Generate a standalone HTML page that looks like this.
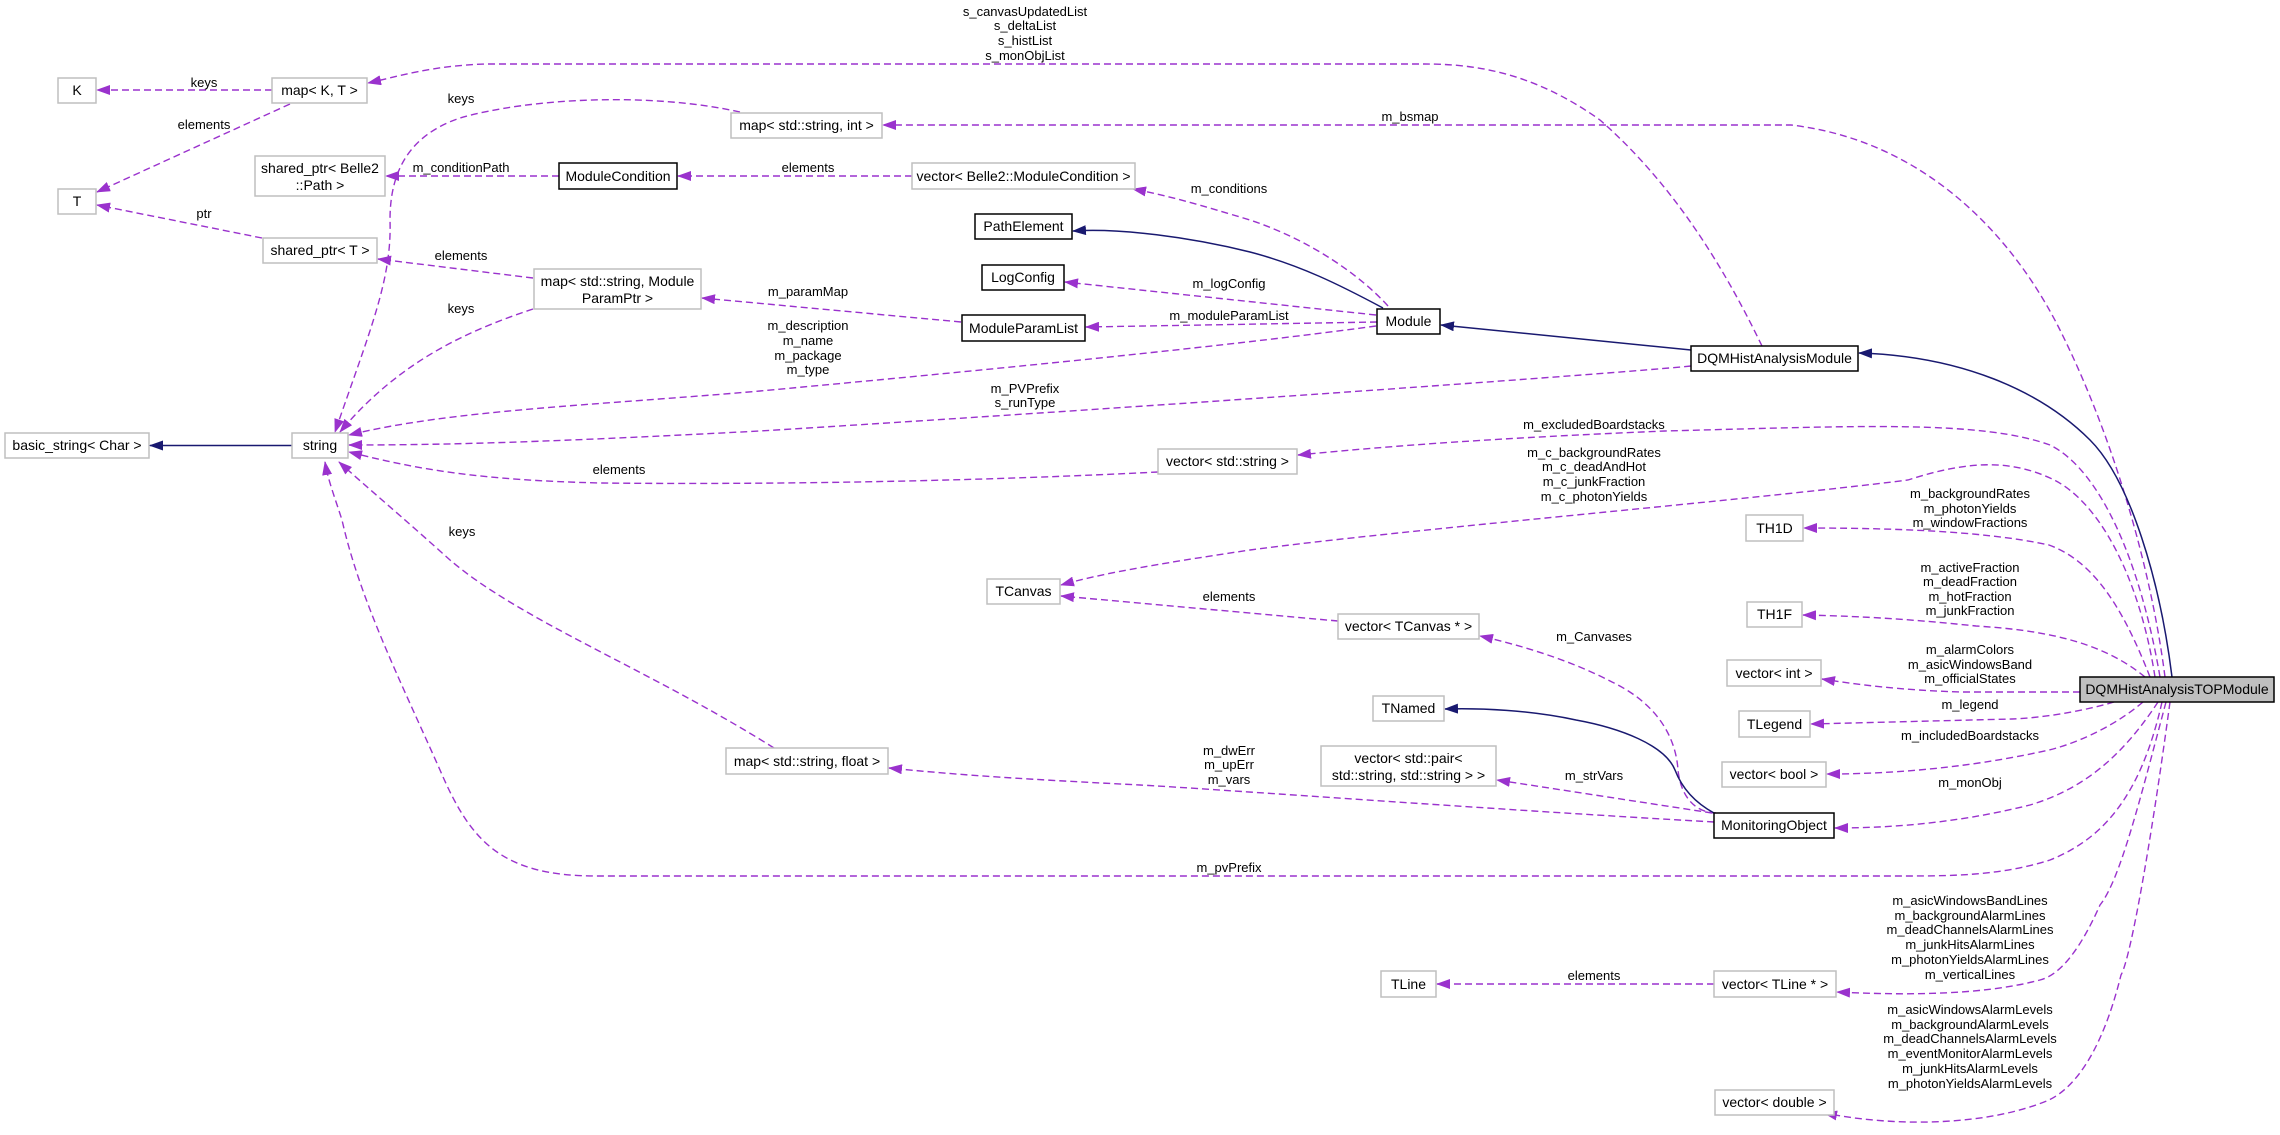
<!DOCTYPE html>
<html><head><meta charset="utf-8"><style>
html,body{margin:0;padding:0;background:#fff;}
svg{display:block;}
text{font-family:"Liberation Sans",Arial,sans-serif;fill:#000;}
.n{font-size:14px;text-anchor:middle;}
.l{font-size:13px;text-anchor:middle;}
.d{fill:none;stroke:#9a32cd;stroke-width:1.4;stroke-dasharray:7,4;}
.s{fill:none;stroke:#191970;stroke-width:1.5;}
.g{fill:#fff;stroke:#bfbfbf;stroke-width:1.5;}
.b{fill:#fff;stroke:#000;stroke-width:1.5;}
</style></head><body>
<svg width="2280" height="1135" viewBox="0 0 2280 1135" xmlns="http://www.w3.org/2000/svg">
<defs>
<marker id="ap" markerWidth="14" markerHeight="10" refX="13" refY="5" orient="auto" markerUnits="userSpaceOnUse"><path d="M0,0 L14,5 L0,10 Z" fill="#9a32cd"/></marker>
<marker id="an" markerWidth="14" markerHeight="10" refX="13" refY="5" orient="auto" markerUnits="userSpaceOnUse"><path d="M0,0 L14,5 L0,10 Z" fill="#191970"/></marker>
</defs>

<!-- edges -->
<path class="d" marker-end="url(#ap)" d="M272,90 L97,90"/>
<path class="d" marker-end="url(#ap)" d="M290,104 L97,192"/>
<path class="d" marker-end="url(#ap)" d="M262,238 L97,205"/>
<path class="d" marker-end="url(#ap)" d="M740,112 C650,92 530,98 460,118 C410,135 390,170 390,220 C392,280 370,330 335,432"/>
<path class="d" marker-end="url(#ap)" d="M559,176 L386,176"/>
<path class="d" marker-end="url(#ap)" d="M912,176 L678,176"/>
<path class="d" marker-end="url(#ap)" d="M533,278 L378,259"/>
<path class="d" marker-end="url(#ap)" d="M533,309 C470,330 400,360 340,432"/>
<path class="d" marker-end="url(#ap)" d="M1388,306 C1360,275 1310,240 1250,220 C1200,205 1170,196 1133,189"/>
<path class="s" marker-end="url(#an)" d="M1383,308 C1340,285 1300,265 1250,252 C1190,237 1120,228 1073,231"/>
<path class="d" marker-end="url(#ap)" d="M1376,315 L1065,282"/>
<path class="d" marker-end="url(#ap)" d="M1377,322 L1086,327"/>
<path class="d" marker-end="url(#ap)" d="M961,322 L702,298"/>
<path class="d" marker-end="url(#ap)" d="M1376,326 C1200,350 900,378 760,391 C600,405 450,410 349,435"/>
<path class="d" marker-end="url(#ap)" d="M1691,366 C1600,375 1100,410 760,431 C550,442 450,445 349,445"/>
<path class="s" marker-end="url(#an)" d="M1691,350 L1441,325"/>
<path class="d" marker-end="url(#ap)" d="M1762,346 C1730,280 1680,190 1600,120 C1530,70 1470,64 1424,64 L485,64 C430,66 400,76 368,83"/>
<path class="d" marker-end="url(#ap)" d="M2165,677 C2150,560 2110,430 2060,330 C2010,230 1920,140 1791,125 L883,125"/>
<path class="s" marker-end="url(#an)" d="M2172,677 C2160,580 2130,480 2090,440 C2040,390 1960,356 1859,353"/>
<path class="d" marker-end="url(#ap)" d="M2160,677 C2140,560 2100,470 2050,445 C1980,420 1860,426 1665,431 C1500,438 1400,445 1298,455"/>
<path class="d" marker-end="url(#ap)" d="M1158,472 C1000,480 800,485 600,483 C480,480 420,470 349,452"/>
<path class="d" marker-end="url(#ap)" d="M2155,677 C2140,580 2100,500 2050,478 C2010,460 1970,460 1908,480 C1750,500 1400,530 1250,550 C1150,565 1100,574 1061,585"/>
<path class="d" marker-end="url(#ap)" d="M1338,621 L1061,596"/>
<path class="d" marker-end="url(#ap)" d="M2150,677 C2120,600 2090,560 2049,545 C1980,530 1880,528 1804,528"/>
<path class="d" marker-end="url(#ap)" d="M2145,677 C2100,640 2040,630 1976,626 C1900,618 1850,616 1803,615"/>
<path class="d" marker-end="url(#ap)" d="M2080,692 L1960,692 C1900,690 1860,685 1822,679"/>
<path class="d" marker-end="url(#ap)" d="M2114,702 C2080,712 2040,718 2012,719 L1811,724"/>
<path class="d" marker-end="url(#ap)" d="M2143,702 C2110,730 2070,745 2049,750 C1960,770 1880,774 1827,774"/>
<path class="d" marker-end="url(#ap)" d="M2158,702 C2120,760 2080,790 2030,805 C1950,825 1880,828 1835,828"/>
<path class="d" marker-end="url(#ap)" d="M2162,702 C2140,800 2100,840 2050,860 C2000,876 1950,876 1900,876 L596,876 C500,876 470,840 440,770 C400,680 360,600 342,520 C334,495 328,480 325,462"/>
<path class="d" marker-end="url(#ap)" d="M1716,813 C1690,812 1680,790 1678,770 C1676,740 1660,705 1612,682 C1570,660 1520,645 1480,636"/>
<path class="s" marker-end="url(#an)" d="M1714,813 C1690,800 1680,783 1675,770 C1665,745 1620,728 1576,720 C1530,710 1480,708 1445,709"/>
<path class="d" marker-end="url(#ap)" d="M1712,813 L1497,780"/>
<path class="d" marker-end="url(#ap)" d="M1714,822 C1500,810 1200,788 1140,785 C1000,778 950,774 889,768"/>
<path class="d" marker-end="url(#ap)" d="M774,748 C650,670 520,620 450,560 C400,515 370,490 339,462"/>
<path class="d" marker-end="url(#ap)" d="M1714,984 L1437,984"/>
<path class="d" marker-end="url(#ap)" d="M2166,702 C2140,800 2120,880 2100,905 C2080,950 2060,975 2040,980 C1980,996 1900,995 1837,992"/>
<path class="d" marker-end="url(#ap)" d="M2170,702 C2150,850 2130,960 2121,975 C2100,1060 2070,1090 2049,1100 C1990,1125 1900,1128 1824,1113"/>

<!-- nodes -->
<rect class="g" x="58" y="78" width="38" height="25"/><text class="n" x="77" y="95">K</text>
<rect class="g" x="272" y="78" width="95" height="25"/><text class="n" x="319.5" y="95">map&lt; K, T &gt;</text>
<rect class="g" x="58" y="189" width="38" height="25"/><text class="n" x="77" y="206">T</text>
<rect class="g" x="255" y="156" width="130" height="40"/><text class="n" x="320" y="173">shared_ptr&lt; Belle2</text><text class="n" x="320" y="190">::Path &gt;</text>
<rect class="g" x="263" y="238" width="114" height="25"/><text class="n" x="320" y="255">shared_ptr&lt; T &gt;</text>
<rect class="g" x="731" y="113" width="151" height="25"/><text class="n" x="806.5" y="130">map&lt; std::string, int &gt;</text>
<rect class="b" x="559" y="163" width="118" height="26"/><text class="n" x="618" y="181">ModuleCondition</text>
<rect class="g" x="912" y="163" width="223" height="26"/><text class="n" x="1023.5" y="181">vector&lt; Belle2::ModuleCondition &gt;</text>
<rect class="b" x="975" y="214" width="97" height="25"/><text class="n" x="1023.5" y="231">PathElement</text>
<rect class="b" x="982" y="265" width="82" height="25"/><text class="n" x="1023" y="282">LogConfig</text>
<rect class="g" x="534" y="269" width="167" height="40"/><text class="n" x="617.5" y="286">map&lt; std::string, Module</text><text class="n" x="617.5" y="303">ParamPtr &gt;</text>
<rect class="b" x="962" y="315" width="123" height="26"/><text class="n" x="1023.5" y="333">ModuleParamList</text>
<rect class="b" x="1377" y="309" width="63" height="25"/><text class="n" x="1408.5" y="326">Module</text>
<rect class="b" x="1691" y="346" width="167" height="25"/><text class="n" x="1774.5" y="363">DQMHistAnalysisModule</text>
<rect class="g" x="5" y="433" width="144" height="25"/><text class="n" x="77" y="450">basic_string&lt; Char &gt;</text>
<path class="s" marker-end="url(#an)" d="M292,445.5 L150,445.5"/>
<rect class="g" x="292" y="433" width="56" height="25"/><text class="n" x="320" y="450">string</text>
<rect class="g" x="1158" y="449" width="139" height="25"/><text class="n" x="1227.5" y="466">vector&lt; std::string &gt;</text>
<rect class="g" x="1746" y="515" width="57" height="26"/><text class="n" x="1774.5" y="533">TH1D</text>
<rect class="g" x="987" y="579" width="73" height="25"/><text class="n" x="1023.5" y="596">TCanvas</text>
<rect class="g" x="1747" y="602" width="55" height="25"/><text class="n" x="1774.5" y="619">TH1F</text>
<rect class="g" x="1338" y="614" width="141" height="25"/><text class="n" x="1408.5" y="631">vector&lt; TCanvas * &gt;</text>
<rect class="g" x="1727" y="660" width="94" height="26"/><text class="n" x="1774" y="678">vector&lt; int &gt;</text>
<rect x="2080" y="677" width="194" height="25" fill="#bfbfbf" stroke="#000" stroke-width="1.5"/><text class="n" x="2177" y="694">DQMHistAnalysisTOPModule</text>
<rect class="g" x="1373" y="696" width="71" height="25"/><text class="n" x="1408.5" y="713">TNamed</text>
<rect class="g" x="1739" y="711" width="71" height="26"/><text class="n" x="1774.5" y="729">TLegend</text>
<rect class="g" x="1321" y="746" width="175" height="40"/><text class="n" x="1408.5" y="763">vector&lt; std::pair&lt;</text><text class="n" x="1408.5" y="780"> std::string, std::string &gt; &gt;</text>
<rect class="g" x="726" y="748" width="162" height="26"/><text class="n" x="807" y="766">map&lt; std::string, float &gt;</text>
<rect class="g" x="1722" y="762" width="104" height="25"/><text class="n" x="1774" y="779">vector&lt; bool &gt;</text>
<rect class="b" x="1714" y="813" width="120" height="25"/><text class="n" x="1774" y="830">MonitoringObject</text>
<rect class="g" x="1381" y="971" width="55" height="26"/><text class="n" x="1408.5" y="989">TLine</text>
<rect class="g" x="1714" y="971" width="122" height="26"/><text class="n" x="1775" y="989">vector&lt; TLine * &gt;</text>
<rect class="g" x="1715" y="1090" width="119" height="25"/><text class="n" x="1774.5" y="1107">vector&lt; double &gt;</text>

<!-- labels -->
<text class="l" x="204" y="87">keys</text>
<text class="l" x="204" y="129">elements</text>
<text class="l" x="204" y="218">ptr</text>
<text class="l" x="461" y="103">keys</text>
<text class="l" x="461" y="172">m_conditionPath</text>
<text class="l" x="461" y="260">elements</text>
<text class="l" x="461" y="313">keys</text>
<text class="l" x="1025" y="16">s_canvasUpdatedList</text>
<text class="l" x="1025" y="30">s_deltaList</text>
<text class="l" x="1025" y="45">s_histList</text>
<text class="l" x="1025" y="60">s_monObjList</text>
<text class="l" x="1410" y="121">m_bsmap</text>
<text class="l" x="808" y="172">elements</text>
<text class="l" x="1229" y="193">m_conditions</text>
<text class="l" x="1229" y="288">m_logConfig</text>
<text class="l" x="1229" y="320">m_moduleParamList</text>
<text class="l" x="808" y="296">m_paramMap</text>
<text class="l" x="808" y="330">m_description</text>
<text class="l" x="808" y="345">m_name</text>
<text class="l" x="808" y="360">m_package</text>
<text class="l" x="808" y="374">m_type</text>
<text class="l" x="1025" y="393">m_PVPrefix</text>
<text class="l" x="1025" y="407">s_runType</text>
<text class="l" x="1594" y="429">m_excludedBoardstacks</text>
<text class="l" x="1594" y="457">m_c_backgroundRates</text>
<text class="l" x="1594" y="471">m_c_deadAndHot</text>
<text class="l" x="1594" y="486">m_c_junkFraction</text>
<text class="l" x="1594" y="501">m_c_photonYields</text>
<text class="l" x="619" y="474">elements</text>
<text class="l" x="1970" y="498">m_backgroundRates</text>
<text class="l" x="1970" y="513">m_photonYields</text>
<text class="l" x="1970" y="527">m_windowFractions</text>
<text class="l" x="462" y="536">keys</text>
<text class="l" x="1229" y="601">elements</text>
<text class="l" x="1970" y="572">m_activeFraction</text>
<text class="l" x="1970" y="586">m_deadFraction</text>
<text class="l" x="1970" y="601">m_hotFraction</text>
<text class="l" x="1970" y="615">m_junkFraction</text>
<text class="l" x="1594" y="641">m_Canvases</text>
<text class="l" x="1970" y="654">m_alarmColors</text>
<text class="l" x="1970" y="669">m_asicWindowsBand</text>
<text class="l" x="1970" y="683">m_officialStates</text>
<text class="l" x="1970" y="709">m_legend</text>
<text class="l" x="1970" y="740">m_includedBoardstacks</text>
<text class="l" x="1229" y="755">m_dwErr</text>
<text class="l" x="1229" y="769">m_upErr</text>
<text class="l" x="1229" y="784">m_vars</text>
<text class="l" x="1594" y="780">m_strVars</text>
<text class="l" x="1970" y="787">m_monObj</text>
<text class="l" x="1229" y="872">m_pvPrefix</text>
<text class="l" x="1970" y="905">m_asicWindowsBandLines</text>
<text class="l" x="1970" y="920">m_backgroundAlarmLines</text>
<text class="l" x="1970" y="934">m_deadChannelsAlarmLines</text>
<text class="l" x="1970" y="949">m_junkHitsAlarmLines</text>
<text class="l" x="1970" y="964">m_photonYieldsAlarmLines</text>
<text class="l" x="1970" y="979">m_verticalLines</text>
<text class="l" x="1594" y="980">elements</text>
<text class="l" x="1970" y="1014">m_asicWindowsAlarmLevels</text>
<text class="l" x="1970" y="1029">m_backgroundAlarmLevels</text>
<text class="l" x="1970" y="1043">m_deadChannelsAlarmLevels</text>
<text class="l" x="1970" y="1058">m_eventMonitorAlarmLevels</text>
<text class="l" x="1970" y="1073">m_junkHitsAlarmLevels</text>
<text class="l" x="1970" y="1088">m_photonYieldsAlarmLevels</text>
</svg>
</body></html>
